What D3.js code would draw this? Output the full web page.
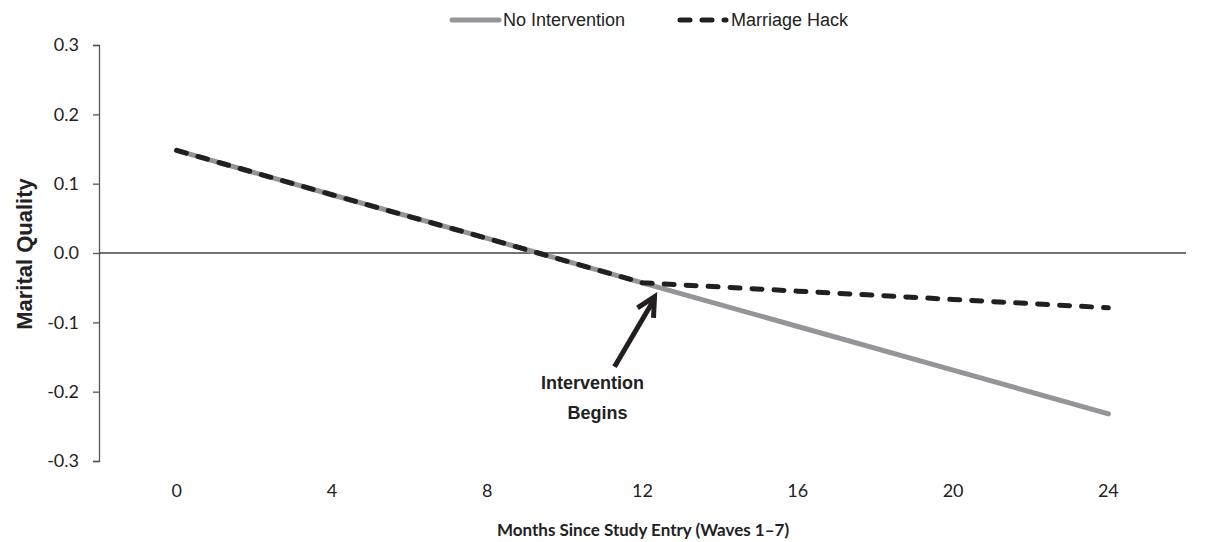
<!DOCTYPE html>
<html><head><meta charset="utf-8">
<script src="https://cdn.jsdelivr.net/npm/d3@7"></script>
<style>body{margin:0;background:#fff}svg{display:block}</style>
</head><body>
<svg id="c" width="1210" height="542"></svg>
<script>
const months = ["0","4","8","12","16","20","24"];
const noIntervention = [0.148, 0.084, 0.021, -0.043, -0.106, -0.169, -0.232];
const marriageHack  = [0.148, 0.084, 0.021, -0.043, -0.055, -0.067, -0.079];
const yTicks = [-0.3, -0.2, -0.1, 0.0, 0.1, 0.2, 0.3];
const seriesNames = ["No Intervention", "Marriage Hack"];

const svg = d3.select("#c");
const x = d3.scalePoint().domain(months).range([99, 1186]).padding(0.5);
const y = d3.scaleLinear().domain([-0.3, 0.3]).range([461, 45]);
const tickFont = "Lato, 'Open Sans', sans-serif";
const arial = "'Liberation Sans', Arial, sans-serif";

// Y axis
const yAxis = svg.append("g").attr("transform", "translate(99,0)")
  .call(d3.axisLeft(y).tickValues(yTicks).tickSize(6).tickPadding(14).tickFormat(d => d.toFixed(1)));
yAxis.select(".domain").attr("stroke", "#555").attr("stroke-width", 1.3);
yAxis.selectAll(".tick line").attr("stroke", "#555").attr("stroke-width", 1.3);
yAxis.selectAll(".tick text").attr("font-family", tickFont).attr("font-size", 18).attr("fill", "#222");

// zero line
svg.append("line").attr("x1", 99).attr("x2", 1186).attr("y1", y(0)).attr("y2", y(0))
  .attr("stroke", "#444").attr("stroke-width", 1.3);

// X labels (at bottom)
svg.append("g").selectAll("text").data(months).join("text")
  .attr("x", d => x(d)).attr("y", 497).attr("text-anchor", "middle")
  .attr("font-family", tickFont).attr("font-size", 18).attr("fill", "#222").text(d => d);

// axis titles
svg.append("text").attr("x", 643).attr("y", 536).attr("text-anchor", "middle")
  .attr("font-family", tickFont).attr("font-weight", "bold").attr("font-size", 17).attr("fill", "#222")
  .text("Months Since Study Entry (Waves 1–7)");
svg.append("text").attr("transform", "translate(32,254) rotate(-90)").attr("text-anchor", "middle")
  .attr("font-family", arial).attr("font-weight", "bold").attr("font-size", 22).attr("fill", "#222")
  .text("Marital Quality");

const line = d3.line().x((d, i) => x(months[i])).y(d => y(d));
svg.append("path").datum(noIntervention).attr("d", line).attr("fill", "none")
  .attr("stroke", "#939598").attr("stroke-width", 5).attr("stroke-linecap", "round");
svg.append("path").datum(marriageHack).attr("d", line).attr("fill", "none")
  .attr("stroke", "#231f20").attr("stroke-width", 5).attr("stroke-linecap", "round")
  .attr("stroke-dasharray", "10,12");

// legend
const lg = svg.append("g");
lg.append("line").attr("x1", 452).attr("x2", 499).attr("y1", 20).attr("y2", 20)
  .attr("stroke", "#939598").attr("stroke-width", 5).attr("stroke-linecap", "round");
lg.append("text").attr("x", 503).attr("y", 26).attr("font-family", arial).attr("font-size", 18).attr("fill", "#222").text(seriesNames[0]);
lg.append("line").attr("x1", 680).attr("x2", 726).attr("y1", 20).attr("y2", 20)
  .attr("stroke", "#231f20").attr("stroke-width", 5).attr("stroke-linecap", "round").attr("stroke-dasharray", "10,12");
lg.append("text").attr("x", 731).attr("y", 26).attr("font-family", arial).attr("font-size", 18).attr("fill", "#222").text(seriesNames[1]);

// annotation arrow anchored to month 12 point
const px = x("12"), py = y(noIntervention[3]);
const tip = [px + 12, py + 14], tail = [px - 28, py + 84];
svg.append("line").attr("x1", tail[0]).attr("y1", tail[1]).attr("x2", tip[0]).attr("y2", tip[1] + 2)
  .attr("stroke", "#231f20").attr("stroke-width", 5);
svg.append("path").attr("d", `M${tip[0]-17},${tip[1]+11} L${tip[0]},${tip[1]} L${tip[0]-1},${tip[1]+21}`)
  .attr("fill", "none").attr("stroke", "#231f20").attr("stroke-width", 5).attr("stroke-linejoin", "miter");
svg.append("text").attr("x", px - 50).attr("y", py + 106).attr("text-anchor", "middle")
  .attr("font-family", arial).attr("font-weight", "bold").attr("font-size", 18).attr("fill", "#222").text("Intervention");
svg.append("text").attr("x", px - 45).attr("y", py + 136).attr("text-anchor", "middle")
  .attr("font-family", arial).attr("font-weight", "bold").attr("font-size", 18).attr("fill", "#222").text("Begins");
</script>
</body></html>
